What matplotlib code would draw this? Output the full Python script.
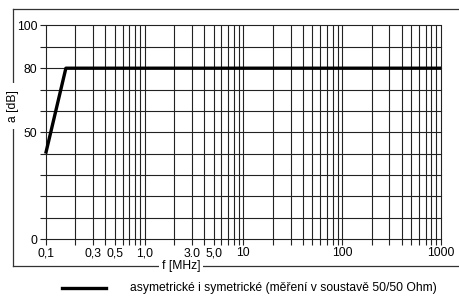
import numpy as np
import matplotlib.pyplot as plt
from matplotlib.lines import Line2D

plt.rcParams['font.family'] = ['Liberation Sans', 'DejaVu Sans']

# data
freq = [0.1, 0.16, 1000]      # MHz
atten = [40, 80, 80]          # dB

x_grid = [m * 10.0 ** d for d in range(-1, 3) for m in range(1, 10)] + [1000]
x_labels = {0.1: '0,1', 0.3: '0,3', 0.5: '0,5', 1.0: '1,0', 3.0: '3,0',
            5.0: '5,0', 10.0: '10', 100.0: '100', 1000.0: '1000'}
y_grid = list(range(0, 101, 10))
y_labels = {0: '0', 50: '50', 80: '80', 100: '100'}
legend_text = 'asymetrické i symetrické (měření v soustavě 50/50 Ohm)'

W, H = 459, 296
fs = 8.7
fig = plt.figure(figsize=(W / 100, H / 100), dpi=100)
ax = fig.add_axes([45.7 / W, 1 - 239 / H, (441 - 45.7) / W, (239 - 25.5) / H])

ax.set_xscale('log')
ax.set_xlim(0.1, 1000)
ax.set_ylim(0, 100)
ax.set_xticks(x_grid)
ax.set_xticklabels([x_labels.get(round(v, 6), '') for v in x_grid])
ax.xaxis.set_minor_locator(plt.NullLocator())
ax.set_yticks(y_grid)
ax.set_yticklabels([y_labels.get(v, '') for v in y_grid])
ax.tick_params(axis='both', length=4, width=0.8, color='#222222',
               labelsize=fs, pad=2)
ax.grid(True, color='#222222', lw=0.8)
for gl in ax.get_xgridlines() + ax.get_ygridlines():
    gl.set_clip_on(False)
for s in ax.spines.values():
    s.set_visible(False)

ax.plot(freq, atten, color='black', lw=2.4, clip_on=False, solid_capstyle='butt')

# outer frame with labels sitting on it
fx0, fy0, fy1 = 13 / W, 1 - 266 / H, 1 - 9 / H
fig.add_artist(Line2D([fx0, 1], [fy1, fy1], color='#333333', lw=0.9))
fig.add_artist(Line2D([fx0, fx0], [fy0, fy1], color='#333333', lw=0.9))
fig.add_artist(Line2D([fx0, 1], [fy0, fy0], color='#333333', lw=0.9))
fig.text(fx0, 1 - 106 / H, 'a [dB]', rotation=90, ha='center', va='center',
         fontsize=fs, bbox=dict(facecolor='white', edgecolor='none', pad=5))
fig.text(181 / W, fy0, 'f [MHz]', ha='center', va='center', fontsize=fs,
         bbox=dict(facecolor='white', edgecolor='none', pad=2))

# legend
ly = 1 - 288 / H
fig.add_artist(Line2D([62 / W, 106 / W], [ly, ly], color='black', lw=2.4))
fig.text(130 / W, ly, legend_text, ha='left', va='center', fontsize=fs)

fig.savefig('out.png', dpi=100)
